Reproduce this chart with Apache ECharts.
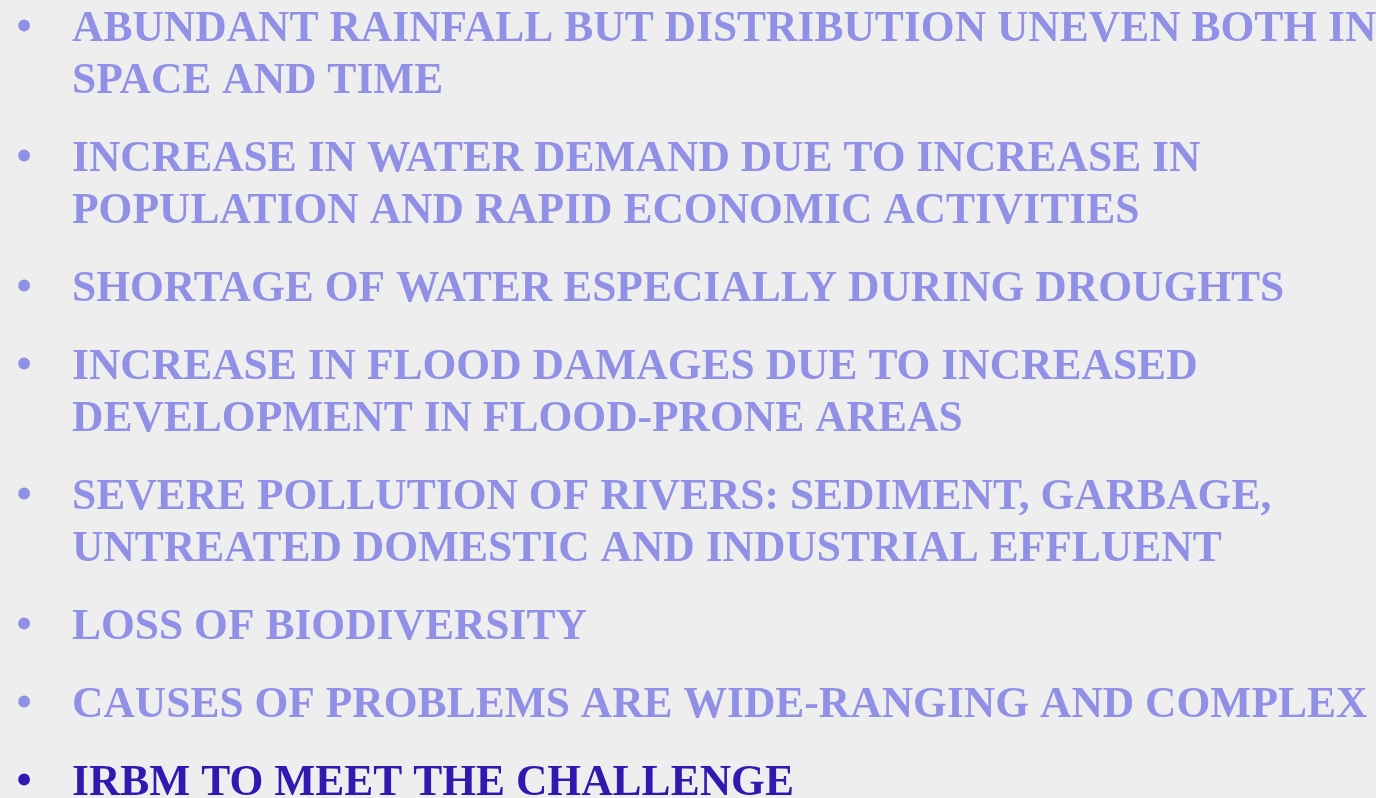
<!DOCTYPE html>
<html>
<head>
<meta charset="utf-8">
<script src="https://cdn.jsdelivr.net/npm/echarts@6/dist/echarts.min.js"></script>
<style>
  html, body { margin: 0; padding: 0; background: #eeeeee; }
  #main { width: 1376px; height: 798px; }
</style>
</head>
<body>
<div id="main"></div>
<script>
// bullet points, one array of lines per bullet
var bullets = [
  ['ABUNDANT RAINFALL BUT DISTRIBUTION UNEVEN BOTH IN', 'SPACE AND TIME'],
  ['INCREASE IN WATER DEMAND DUE TO INCREASE IN', 'POPULATION AND RAPID ECONOMIC ACTIVITIES'],
  ['SHORTAGE OF WATER ESPECIALLY DURING DROUGHTS'],
  ['INCREASE IN FLOOD DAMAGES DUE TO INCREASED', 'DEVELOPMENT IN FLOOD-PRONE AREAS'],
  ['SEVERE POLLUTION OF RIVERS: SEDIMENT, GARBAGE,', 'UNTREATED DOMESTIC AND INDUSTRIAL EFFLUENT'],
  ['LOSS OF BIODIVERSITY'],
  ['CAUSES OF PROBLEMS ARE WIDE-RANGING AND COMPLEX'],
  ['IRBM TO MEET THE CHALLENGE']
]
// which bullet is highlighted
var highlight = [false, false, false, false, false, false, false, true]

var myChart = echarts.init(document.getElementById('main'))

var font = 'bold 43.5px "Liberation Serif", "Times New Roman", serif'
var lineGap = 52
var itemGap = 26
var elements = []
var y = 30

bullets.forEach(function (lines, i) {
  var color = highlight[i] ? '#3019b0' : '#9090e6'
  elements.push({
    type: 'text',
    style: { text: '\u2022', x: 24, y: y - 1, font: font, fill: color, align: 'center', verticalAlign: 'middle' }
  })
  lines.forEach(function (line, j) {
    elements.push({
      type: 'text',
      style: { text: line, x: 72, y: y + j * lineGap, font: font, fill: color, verticalAlign: 'middle' }
    })
  })
  y += lines.length * lineGap + itemGap
})

myChart.setOption({
  backgroundColor: '#eeeeee',
  graphic: elements
})
</script>
</body>
</html>
